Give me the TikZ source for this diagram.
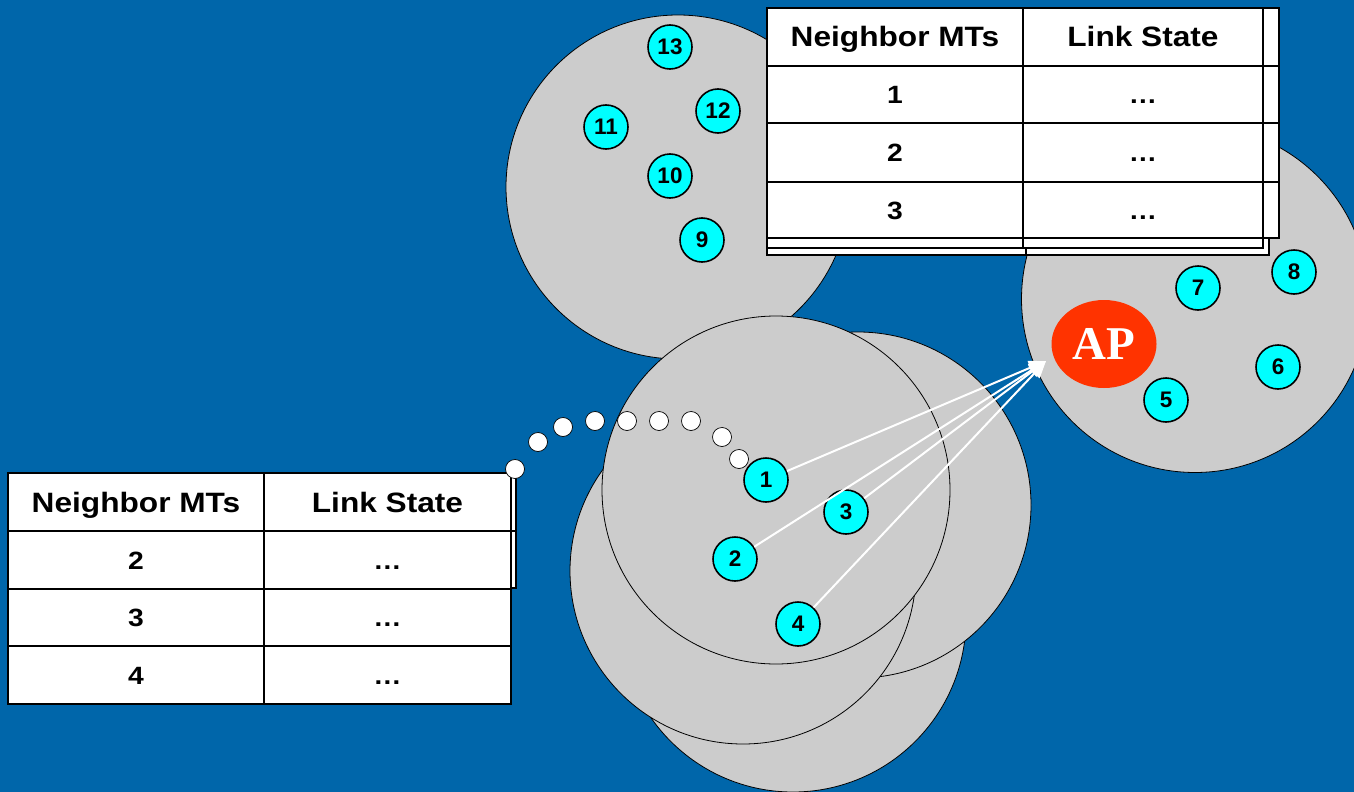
\documentclass[tikz,border=0pt]{standalone}
\usepackage{fontspec}
\setmainfont{Liberation Sans}
\newfontfamily\tablefont[FakeStretch=1.13]{Liberation Sans}
\newfontfamily\apfont{Liberation Serif}
\usetikzlibrary{arrows.meta,shapes.geometric}

\definecolor{slideblue}{HTML}{0066AA}
\definecolor{cellgray}{HTML}{CCCCCC}
\definecolor{mtcyan}{HTML}{00FFFF}
\definecolor{apred}{HTML}{FF3300}

\tikzset{
  cellarea/.style={draw=black, line width=0.8pt, fill=cellgray},
  mt/.style={circle, draw=black, line width=1.6pt, fill=mtcyan, minimum size=44pt,
    inner sep=0pt, font=\fontsize{22.5}{22.5}\selectfont\bfseries},
  hop/.style={circle, draw=black, line width=0.7pt, fill=white, minimum size=19pt, inner sep=0pt},
  tabframe/.style={draw=black, line width=2.2pt, fill=white},
  tabline/.style={draw=black, line width=2.2pt},
  hdr/.style={font=\tablefont\fontsize{28}{28}\selectfont\bfseries, text height=20pt,
    text depth=0pt, inner sep=0pt},
  val/.style={font=\tablefont\fontsize{25}{25}\selectfont\bfseries, text height=18pt,
    text depth=0pt, inner sep=0pt},
  link/.style={white, line width=2pt, -{Triangle[length=17pt,width=14pt]}},
}

\begin{document}
\begin{tikzpicture}[x=1pt, y=-1pt]
  % slide background
  \fill[slideblue] (0,0) rectangle (1354,792);
  \useasboundingbox (0,0) rectangle (1354,792);

  % radio coverage areas
  \draw[cellarea] (678,187) circle[radius=172];
  \draw[cellarea] (793,619) circle[radius=173];
  \draw[cellarea] (858,505) circle[radius=173];
  \draw[cellarea] (743,571) circle[radius=173];
  \draw[cellarea] (776,490) circle[radius=174];
  \begin{scope}
    \clip (0,0) rectangle (1354,792);
    \draw[cellarea] (1195,299) circle[radius=173.5];
  \end{scope}

  % neighbour table of the access point (stacked copies behind)
  \draw[tabframe] (767,17) rectangle (1269,255);
  \draw[tabline] (1026,17) -- (1026,255);
  \draw[tabframe] (767,12) rectangle (1263,248);
  \draw[tabline] (1023,12) -- (1023,248);
  \draw[tabframe] (783,8) rectangle (1279,238);
  \foreach \yy in {66,123,182} \draw[tabline] (783,\yy) -- (1279,\yy);
  \draw[tabframe] (767,8) rectangle (1263,238);
  \draw[tabline] (1023,8) -- (1023,238);
  \foreach \yy in {66,123,182} \draw[tabline] (767,\yy) -- (1263,\yy);

  \node[hdr] (th1) at (895,37) {Neighbor MTs};
  \node[hdr] (th2) at (1143,37) {Link State};
  \node[val] (ta1) at (895,94.5) {1};
  \node[val] (tb1) at (1143,94.5) {…};
  \node[val] (ta2) at (895,152.5) {2};
  \node[val] (tb2) at (1143,152.5) {…};
  \node[val] (ta3) at (895,210) {3};
  \node[val] (tb3) at (1143,210) {…};

  % neighbour table of MT 1 (one copy behind)
  \draw[tabframe] (14,473) rectangle (516,588);
  \draw[tabline] (14,531) -- (516,531);
  \draw[tabframe] (8,473) rectangle (511,704);
  \draw[tabline] (264,473) -- (264,704);
  \foreach \yy in {531,589,646} \draw[tabline] (8,\yy) -- (511,\yy);

  \node[hdr] (lh1) at (136,502) {Neighbor MTs};
  \node[hdr] (lh2) at (387.5,502) {Link State};
  \node[val] (la1) at (136,560) {2};
  \node[val] (lb1) at (387.5,560) {…};
  \node[val] (la2) at (136,617.5) {3};
  \node[val] (lb2) at (387.5,617.5) {…};
  \node[val] (la3) at (136,675) {4};
  \node[val] (lb3) at (387.5,675) {…};

  % trail of dots from the table to MT 1
  \foreach \px/\py [count=\k] in {515/469, 538/442, 563/427, 595/421, 627/421,
                                   659/421, 691/421, 722/437, 739/459}
    \node[hop] (d\k) at (\px,\py) {};

  % mobile terminals
  \node[mt] (m13) at (670,47) {13};
  \node[mt] (m12) at (718,111) {12};
  \node[mt] (m11) at (606,127) {11};
  \node[mt] (m10) at (670,176) {10};
  \node[mt] (m9) at (702,240) {9};
  \node[mt] (m7) at (1198,288) {7};
  \node[mt] (m8) at (1294,272) {8};
  \node[mt] (m6) at (1278,367) {6};
  \node[mt] (m5) at (1166,400) {5};
  \node[mt] (m1) at (766,480) {1};
  \node[mt] (m3) at (846,512) {3};
  \node[mt] (m2) at (735,559) {2};
  \node[mt] (m4) at (798,624) {4};

  % access point
  \node[ellipse, fill=apred, minimum width=105pt, minimum height=88pt, inner sep=0pt,
        text=white, font=\apfont\fontsize{47}{47}\selectfont\bfseries] (ap) at (1104,344) {AP};

  % links towards the access point
  \coordinate (tip) at (1046,361);
  \foreach \m in {m1,m2,m3,m4}
    \draw[link] (\m) -- (tip);
\end{tikzpicture}
\end{document}
